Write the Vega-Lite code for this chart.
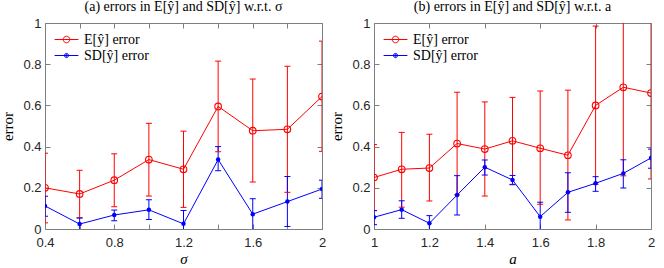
{
  "$schema": "https://vega.github.io/schema/vega-lite/v6.json",
  "padding": {"left": 0, "top": 0, "right": 0, "bottom": 0},
  "background": "white",
  "bounds": "flush",
  "spacing": 52,
  "data": {"values": [
    {"p":"a","x":0.4,"s":"E[ŷ] error","y":0.200,"lo":0.030,"hi":0.368},
    {"p":"a","x":0.6,"s":"E[ŷ] error","y":0.170,"lo":0.055,"hi":0.285},
    {"p":"a","x":0.8,"s":"E[ŷ] error","y":0.237,"lo":0.108,"hi":0.365},
    {"p":"a","x":1.0,"s":"E[ŷ] error","y":0.337,"lo":0.160,"hi":0.513},
    {"p":"a","x":1.2,"s":"E[ŷ] error","y":0.290,"lo":0.105,"hi":0.475},
    {"p":"a","x":1.4,"s":"E[ŷ] error","y":0.595,"lo":0.375,"hi":0.815},
    {"p":"a","x":1.6,"s":"E[ŷ] error","y":0.477,"lo":0.228,"hi":0.728},
    {"p":"a","x":1.8,"s":"E[ŷ] error","y":0.484,"lo":0.178,"hi":0.790},
    {"p":"a","x":2.0,"s":"E[ŷ] error","y":0.643,"lo":0.377,"hi":0.912},
    {"p":"a","x":0.4,"s":"SD[ŷ] error","y":0.112,"lo":0.062,"hi":0.159},
    {"p":"a","x":0.6,"s":"SD[ŷ] error","y":0.024,"lo":-0.010,"hi":0.053},
    {"p":"a","x":0.8,"s":"SD[ŷ] error","y":0.068,"lo":0.040,"hi":0.092},
    {"p":"a","x":1.0,"s":"SD[ŷ] error","y":0.093,"lo":0.046,"hi":0.142},
    {"p":"a","x":1.2,"s":"SD[ŷ] error","y":0.025,"lo":-0.040,"hi":0.090},
    {"p":"a","x":1.4,"s":"SD[ŷ] error","y":0.337,"lo":0.283,"hi":0.400},
    {"p":"a","x":1.6,"s":"SD[ŷ] error","y":0.072,"lo":-0.010,"hi":0.147},
    {"p":"a","x":1.8,"s":"SD[ŷ] error","y":0.133,"lo":0.012,"hi":0.255},
    {"p":"a","x":2.0,"s":"SD[ŷ] error","y":0.194,"lo":0.149,"hi":0.237},
    {"p":"b","x":1.0,"s":"E[ŷ] error","y":0.250,"lo":0.090,"hi":0.410},
    {"p":"b","x":1.1,"s":"E[ŷ] error","y":0.290,"lo":0.106,"hi":0.469},
    {"p":"b","x":1.2,"s":"E[ŷ] error","y":0.296,"lo":0.136,"hi":0.460},
    {"p":"b","x":1.3,"s":"E[ŷ] error","y":0.415,"lo":0.166,"hi":0.664},
    {"p":"b","x":1.4,"s":"E[ŷ] error","y":0.388,"lo":0.160,"hi":0.617},
    {"p":"b","x":1.5,"s":"E[ŷ] error","y":0.428,"lo":0.217,"hi":0.639},
    {"p":"b","x":1.6,"s":"E[ŷ] error","y":0.392,"lo":0.120,"hi":0.670},
    {"p":"b","x":1.7,"s":"E[ŷ] error","y":0.358,"lo":0.044,"hi":0.674},
    {"p":"b","x":1.8,"s":"E[ŷ] error","y":0.600,"lo":0.217,"hi":0.985},
    {"p":"b","x":1.9,"s":"E[ŷ] error","y":0.688,"lo":0.258,"hi":1.120},
    {"p":"b","x":2.0,"s":"E[ŷ] error","y":0.660,"lo":0.243,"hi":1.080},
    {"p":"b","x":1.0,"s":"SD[ŷ] error","y":0.057,"lo":0.021,"hi":0.089},
    {"p":"b","x":1.1,"s":"SD[ŷ] error","y":0.094,"lo":0.052,"hi":0.137},
    {"p":"b","x":1.2,"s":"SD[ŷ] error","y":0.028,"lo":-0.010,"hi":0.065},
    {"p":"b","x":1.3,"s":"SD[ŷ] error","y":0.165,"lo":0.068,"hi":0.259},
    {"p":"b","x":1.4,"s":"SD[ŷ] error","y":0.300,"lo":0.262,"hi":0.335},
    {"p":"b","x":1.5,"s":"SD[ŷ] error","y":0.238,"lo":0.215,"hi":0.260},
    {"p":"b","x":1.6,"s":"SD[ŷ] error","y":0.060,"lo":-0.010,"hi":0.130},
    {"p":"b","x":1.7,"s":"SD[ŷ] error","y":0.178,"lo":0.081,"hi":0.273},
    {"p":"b","x":1.8,"s":"SD[ŷ] error","y":0.222,"lo":0.183,"hi":0.254},
    {"p":"b","x":1.9,"s":"SD[ŷ] error","y":0.270,"lo":0.199,"hi":0.336},
    {"p":"b","x":2.0,"s":"SD[ŷ] error","y":0.345,"lo":0.295,"hi":0.388}
  ]},
  "config": {
    "view": {"stroke": null},
    "axis": {
      "grid": false,
      "domainColor": "#7f7f7f",
      "tickColor": "#7f7f7f",
      "tickSize": -5,
      "labelFlush": false,
      "labelFont": "Liberation Sans",
      "labelFontSize": 13,
      "labelColor": "#262626",
      "labelPadding": 9,
      "titleFont": "Liberation Serif",
      "titleFontSize": 15,
      "titleFontWeight": "normal",
      "titleColor": "black"
    },
    "axisX": {"labelPadding": 12},
    "axisY": {"minExtent": 24, "maxExtent": 24},
    "legend": {
      "orient": "none",
      "legendX": 14,
      "legendY": 9,
      "padding": 0,
      "labelFont": "Liberation Serif",
      "labelFontSize": 14,
      "labelColor": "black",
      "symbolSize": 196,
      "symbolStrokeWidth": 1,
      "labelOffset": 10,
      "rowPadding": 1,
      "symbolType": "stroke"
    }
  },
  "resolve": {"scale": {"color": "independent"}, "legend": {"color": "independent"}},
  "hconcat": [
    {
      "width": 277,
      "height": 206,
      "title": {"text": "(a) errors in E[ŷ] and SD[ŷ] w.r.t. σ", "font": "Liberation Serif", "fontSize": 14, "fontWeight": "normal", "color": "black", "anchor": "middle", "offset": 3},
      "transform": [{"filter": "datum.p == 'a'"}],
      "resolve": {"axis": {"x": "independent", "y": "independent"}},
      "layer": [
        {
          "mark": {"type": "rule", "clip": true, "strokeWidth": 1},
          "encoding": {
            "x": {"field": "x", "type": "quantitative", "scale": {"domain": [0.4, 2], "nice": false, "zero": false},
                  "axis": {"values": [0.4,0.6,0.8,1.0,1.2,1.4,1.6,1.8,2.0], "format": "~g", "labelExpr": "indexof(['0.6','1','1.4','1.8'], datum.label) >= 0 ? '' : datum.label", "title": "σ", "titleFontStyle": "italic", "titlePadding": 2}},
            "y": {"field": "lo", "type": "quantitative", "scale": {"domain": [0, 1], "nice": false},
                  "axis": {"values": [0,0.2,0.4,0.6,0.8,1], "format": "~g", "title": "error", "titlePadding": 6}},
            "y2": {"field": "hi"},
            "color": {"field": "s", "type": "nominal", "scale": {"domain": ["E[ŷ] error", "SD[ŷ] error"], "range": ["#ff0000", "#0000ff"]},
              "legend": {"title": null, "orient": "none", "legendX": 14, "legendY": 9,
                "encode": {"symbols": {"update": {"fill": {"value": "transparent"}, "fillOpacity": {"value": 0}, "shape": {"signal": "datum.value == 'E[ŷ] error' ? 'M-1.7,0L1.7,0M-0.47,0A0.47,0.47,0,1,0,0.47,0A0.47,0.47,0,1,0,-0.47,0' : 'M-1.7,0L1.7,0M-0.3,0A0.3,0.3,0,1,0,0.3,0A0.3,0.3,0,1,0,-0.3,0M-0.15,0A0.15,0.15,0,1,0,0.15,0A0.15,0.15,0,1,0,-0.15,0'"}}}}}}
          }
        },
        {
          "mark": {"type": "tick", "orient": "horizontal", "clip": true, "size": 6, "thickness": 1, "opacity": 1},
          "encoding": {
            "x": {"field": "x", "type": "quantitative", "axis": null},
            "y": {"field": "lo", "type": "quantitative", "axis": null},
            "color": {"field": "s", "type": "nominal", "legend": null}
          }
        },
        {
          "mark": {"type": "tick", "orient": "horizontal", "clip": true, "size": 6, "thickness": 1, "opacity": 1},
          "encoding": {
            "x": {"field": "x", "type": "quantitative", "axis": null},
            "y": {"field": "hi", "type": "quantitative", "axis": null},
            "color": {"field": "s", "type": "nominal", "legend": null}
          }
        },
        {
          "mark": {"type": "line", "strokeWidth": 1, "clip": true},
          "encoding": {
            "x": {"field": "x", "type": "quantitative", "axis": null},
            "y": {"field": "y", "type": "quantitative", "axis": null},
            "color": {"field": "s", "type": "nominal", "legend": null}
          }
        },
        {
          "transform": [{"filter": "datum.s == 'E[ŷ] error'"}],
          "mark": {"type": "point", "shape": "circle", "filled": false, "strokeWidth": 1.1, "opacity": 1, "size": 44, "clip": true, "color": "#ff0000"},
          "encoding": {
            "x": {"field": "x", "type": "quantitative", "axis": {"orient": "top", "labels": false, "title": null, "values": [0.4,0.6,0.8,1.0,1.2,1.4,1.6,1.8,2.0]}},
            "y": {"field": "y", "type": "quantitative", "axis": {"orient": "right", "labels": false, "title": null, "values": [0,0.2,0.4,0.6,0.8,1]}}
          }
        },
        {
          "transform": [{"filter": "datum.s == 'SD[ŷ] error'"}],
          "mark": {"type": "point", "shape": "circle", "filled": true, "opacity": 1, "size": 20, "clip": true, "color": "#0000ff"},
          "encoding": {
            "x": {"field": "x", "type": "quantitative", "axis": null},
            "y": {"field": "y", "type": "quantitative", "axis": null}
          }
        }
      ]
    },
    {
      "width": 277,
      "height": 206,
      "title": {"text": "(b) errors in E[ŷ] and SD[ŷ] w.r.t. a", "font": "Liberation Serif", "fontSize": 14, "fontWeight": "normal", "color": "black", "anchor": "middle", "offset": 3},
      "transform": [{"filter": "datum.p == 'b'"}],
      "resolve": {"axis": {"x": "independent", "y": "independent"}},
      "layer": [
        {
          "mark": {"type": "rule", "clip": true, "strokeWidth": 1},
          "encoding": {
            "x": {"field": "x", "type": "quantitative", "scale": {"domain": [1, 2], "nice": false, "zero": false},
                  "axis": {"values": [1,1.2,1.4,1.6,1.8,2], "format": "~g", "title": "a", "titleFontStyle": "italic", "titlePadding": 2}},
            "y": {"field": "lo", "type": "quantitative", "scale": {"domain": [0, 1], "nice": false},
                  "axis": {"values": [0,0.2,0.4,0.6,0.8,1], "format": "~g", "title": "error", "titlePadding": 6}},
            "y2": {"field": "hi"},
            "color": {"field": "s", "type": "nominal", "scale": {"domain": ["E[ŷ] error", "SD[ŷ] error"], "range": ["#ff0000", "#0000ff"]},
              "legend": {"title": null, "orient": "none", "legendX": 14, "legendY": 9,
                "encode": {"symbols": {"update": {"fill": {"value": "transparent"}, "fillOpacity": {"value": 0}, "shape": {"signal": "datum.value == 'E[ŷ] error' ? 'M-1.7,0L1.7,0M-0.47,0A0.47,0.47,0,1,0,0.47,0A0.47,0.47,0,1,0,-0.47,0' : 'M-1.7,0L1.7,0M-0.3,0A0.3,0.3,0,1,0,0.3,0A0.3,0.3,0,1,0,-0.3,0M-0.15,0A0.15,0.15,0,1,0,0.15,0A0.15,0.15,0,1,0,-0.15,0'"}}}}}}
          }
        },
        {
          "mark": {"type": "tick", "orient": "horizontal", "clip": true, "size": 6, "thickness": 1, "opacity": 1},
          "encoding": {
            "x": {"field": "x", "type": "quantitative", "axis": null},
            "y": {"field": "lo", "type": "quantitative", "axis": null},
            "color": {"field": "s", "type": "nominal", "legend": null}
          }
        },
        {
          "mark": {"type": "tick", "orient": "horizontal", "clip": true, "size": 6, "thickness": 1, "opacity": 1},
          "encoding": {
            "x": {"field": "x", "type": "quantitative", "axis": null},
            "y": {"field": "hi", "type": "quantitative", "axis": null},
            "color": {"field": "s", "type": "nominal", "legend": null}
          }
        },
        {
          "mark": {"type": "line", "strokeWidth": 1, "clip": true},
          "encoding": {
            "x": {"field": "x", "type": "quantitative", "axis": null},
            "y": {"field": "y", "type": "quantitative", "axis": null},
            "color": {"field": "s", "type": "nominal", "legend": null}
          }
        },
        {
          "transform": [{"filter": "datum.s == 'E[ŷ] error'"}],
          "mark": {"type": "point", "shape": "circle", "filled": false, "strokeWidth": 1.1, "opacity": 1, "size": 44, "clip": true, "color": "#ff0000"},
          "encoding": {
            "x": {"field": "x", "type": "quantitative", "axis": {"orient": "top", "labels": false, "title": null, "values": [1,1.2,1.4,1.6,1.8,2]}},
            "y": {"field": "y", "type": "quantitative", "axis": {"orient": "right", "labels": false, "title": null, "values": [0,0.2,0.4,0.6,0.8,1]}}
          }
        },
        {
          "transform": [{"filter": "datum.s == 'SD[ŷ] error'"}],
          "mark": {"type": "point", "shape": "circle", "filled": true, "opacity": 1, "size": 20, "clip": true, "color": "#0000ff"},
          "encoding": {
            "x": {"field": "x", "type": "quantitative", "axis": null},
            "y": {"field": "y", "type": "quantitative", "axis": null}
          }
        }
      ]
    }
  ]
}
